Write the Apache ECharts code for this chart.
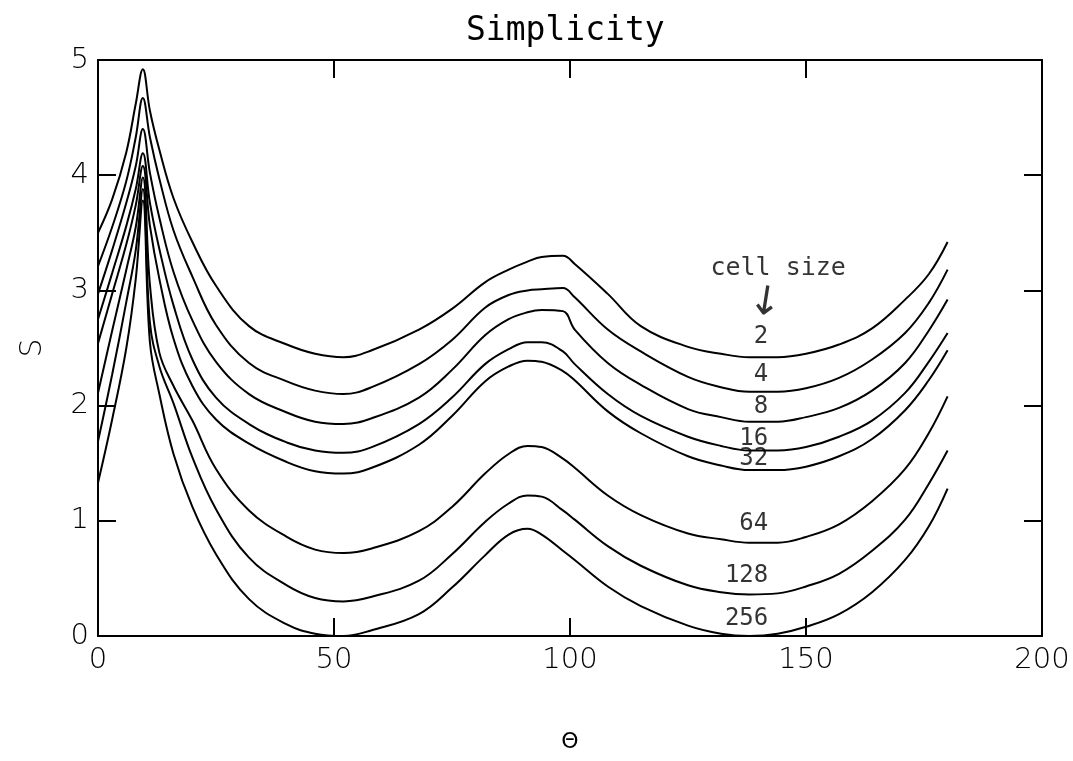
<!DOCTYPE html>
<html>
<head>
<meta charset="utf-8">
<script src="https://cdn.jsdelivr.net/npm/echarts@6/dist/echarts.min.js"></script>
<style>
html,body{margin:0;padding:0;background:#fff;}
#chart{width:1073px;height:761px;}
</style>
</head>
<body>
<div id="chart"></div>
<script>
// ---- data ----
const theta = [0, 3, 6, 8, 9.5, 11, 13, 16, 20, 25, 32, 40, 46, 52, 58, 68, 75, 82, 87, 91, 94, 98.5, 101, 108, 115, 125, 132, 138, 144, 150, 157, 164, 171, 176, 180];
const cellSizes = ['2', '4', '8', '16', '32', '64', '128', '256'];
const s2   = [3.50, 3.79, 4.20, 4.62, 4.92, 4.56, 4.22, 3.80, 3.42, 3.04, 2.69, 2.53, 2.45, 2.42, 2.48, 2.66, 2.84, 3.07, 3.18, 3.25, 3.29, 3.30, 3.23, 2.97, 2.69, 2.51, 2.45, 2.42, 2.42, 2.45, 2.53, 2.67, 2.92, 3.14, 3.42];
const s4   = [3.21, 3.55, 3.95, 4.33, 4.67, 4.33, 3.97, 3.52, 3.12, 2.70, 2.37, 2.21, 2.13, 2.10, 2.16, 2.36, 2.57, 2.85, 2.96, 3.00, 3.01, 3.02, 2.94, 2.66, 2.47, 2.25, 2.16, 2.12, 2.12, 2.15, 2.24, 2.40, 2.63, 2.89, 3.18];
const s8   = [2.97, 3.35, 3.76, 4.08, 4.40, 4.02, 3.63, 3.16, 2.74, 2.38, 2.10, 1.94, 1.86, 1.84, 1.89, 2.07, 2.31, 2.61, 2.75, 2.81, 2.83, 2.82, 2.66, 2.37, 2.18, 1.97, 1.90, 1.86, 1.86, 1.90, 1.98, 2.13, 2.37, 2.65, 2.92];
const s16  = [2.75, 3.15, 3.56, 3.88, 4.19, 3.76, 3.36, 2.87, 2.40, 2.07, 1.84, 1.68, 1.61, 1.59, 1.64, 1.84, 2.07, 2.36, 2.49, 2.55, 2.55, 2.47, 2.36, 2.10, 1.91, 1.73, 1.65, 1.61, 1.61, 1.64, 1.73, 1.87, 2.11, 2.38, 2.63];
const s32  = [2.54, 2.97, 3.40, 3.74, 4.08, 3.56, 3.10, 2.58, 2.17, 1.88, 1.67, 1.51, 1.43, 1.41, 1.46, 1.66, 1.91, 2.21, 2.34, 2.39, 2.38, 2.30, 2.22, 1.95, 1.76, 1.56, 1.48, 1.44, 1.44, 1.47, 1.56, 1.71, 1.96, 2.22, 2.48];
const s64  = [2.11, 2.65, 3.18, 3.55, 3.98, 3.05, 2.46, 2.17, 1.87, 1.45, 1.09, 0.86, 0.75, 0.72, 0.76, 0.91, 1.12, 1.41, 1.58, 1.65, 1.64, 1.54, 1.46, 1.22, 1.05, 0.89, 0.84, 0.81, 0.81, 0.86, 0.97, 1.17, 1.45, 1.76, 2.08];
const s128 = [1.69, 2.27, 2.90, 3.35, 3.88, 2.72, 2.34, 2.02, 1.55, 1.10, 0.68, 0.44, 0.33, 0.30, 0.34, 0.48, 0.71, 0.99, 1.15, 1.22, 1.21, 1.09, 1.01, 0.78, 0.61, 0.44, 0.38, 0.36, 0.37, 0.43, 0.54, 0.74, 1.01, 1.32, 1.61];
const s256 = [1.33, 1.88, 2.50, 3.10, 3.78, 2.55, 2.10, 1.58, 1.12, 0.71, 0.32, 0.10, 0.02, 0.00, 0.05, 0.19, 0.42, 0.70, 0.88, 0.93, 0.88, 0.74, 0.66, 0.43, 0.26, 0.09, 0.02, 0.00, 0.02, 0.08, 0.19, 0.38, 0.66, 0.95, 1.28];
const allSeries = [s2, s4, s8, s16, s32, s64, s128, s256];
const xTicks = [0, 50, 100, 150, 200];
const yTicks = [0, 1, 2, 3, 4, 5];
// annotation anchors (data space): cell-size labels right-aligned at theta 142
const labelTheta = 142;
const labelS = [2.60, 2.27, 1.99, 1.71, 1.54, 0.97, 0.52, 0.15];
const headerText = 'cell size';
const headerAnchor = [144.1, 3.19];
const arrowAnchor = [141.3, 2.88];

// ---- chart ----
const chart = echarts.init(document.getElementById('chart'), null, {renderer: 'canvas'});
const labelFont = 'DejaVu Sans';
function axisCommon() {
  return {
    type: 'value',
    splitLine: {show: false},
    axisLine: {show: true, onZero: false, lineStyle: {color: '#000', width: 2}},
    axisTick: {show: true, inside: true, length: 18, lineStyle: {color: '#000', width: 2}}
  };
}
const series = allSeries.map((arr, i) => ({
  type: 'line',
  name: cellSizes[i],
  data: theta.map((t, j) => [t, arr[j]]),
  showSymbol: false,
  smooth: 0.4,
  lineStyle: {color: '#000', width: 2},
  silent: true,
  z: 3
}));
series.push({
  type: 'scatter',
  silent: true,
  symbolSize: 0,
  data: cellSizes.map((c, i) => ({name: c, value: [labelTheta, labelS[i]]})),
  label: {show: true, position: 'inside', formatter: '{b}', align: 'right', verticalAlign: 'middle',
          fontFamily: 'DejaVu Sans Mono', fontSize: 24, color: '#000'},
  z: 5
});
series.push({
  type: 'scatter',
  silent: true,
  symbolSize: 0,
  data: [{name: headerText, value: headerAnchor}],
  label: {show: true, position: 'inside', formatter: '{b}', align: 'center', verticalAlign: 'middle',
          fontFamily: 'DejaVu Sans Mono', fontSize: 25, color: '#000'},
  z: 5
});
series.push({
  type: 'scatter',
  silent: true,
  symbolSize: 0,
  data: [{name: '↓', value: arrowAnchor}],
  label: {show: true, position: 'inside', formatter: '{b}', align: 'center', verticalAlign: 'middle', rotate: -9,
          fontFamily: 'DejaVu Sans', fontSize: 40, color: '#000'},
  z: 5
});

chart.setOption({
  backgroundColor: '#fff',
  animation: false,
  title: {
    text: 'Simplicity',
    left: 461, top: 10,
    textStyle: {fontFamily: 'DejaVu Sans Mono', fontSize: 33, fontWeight: 'normal', color: '#000'}
  },
  grid: {left: 98, right: 31, top: 60, bottom: 125},
  xAxis: [
    Object.assign(axisCommon(), {
      position: 'bottom', min: xTicks[0], max: xTicks[xTicks.length - 1], interval: 50,
      name: 'Θ', nameLocation: 'middle', nameGap: 95,
      nameTextStyle: {fontFamily: labelFont, fontSize: 22, color: '#000'},
      axisLabel: {margin: 10, fontFamily: labelFont, fontSize: 29, fontWeight: 200, color: '#000'}
    }),
    Object.assign(axisCommon(), {
      position: 'top', min: xTicks[0], max: xTicks[xTicks.length - 1], interval: 50,
      axisLabel: {show: false}
    })
  ],
  yAxis: [
    Object.assign(axisCommon(), {
      position: 'left', min: yTicks[0], max: yTicks[yTicks.length - 1], interval: 1,
      name: 'S', nameLocation: 'middle', nameGap: 50,
      nameTextStyle: {fontFamily: labelFont, fontSize: 30, fontWeight: 200, color: '#000'},
      axisLabel: {margin: 9, fontFamily: labelFont, fontSize: 29, fontWeight: 200, color: '#000'}
    }),
    Object.assign(axisCommon(), {
      position: 'right', min: yTicks[0], max: yTicks[yTicks.length - 1], interval: 1,
      axisLabel: {show: false}
    })
  ],
  series: series
});
</script>
</body>
</html>
